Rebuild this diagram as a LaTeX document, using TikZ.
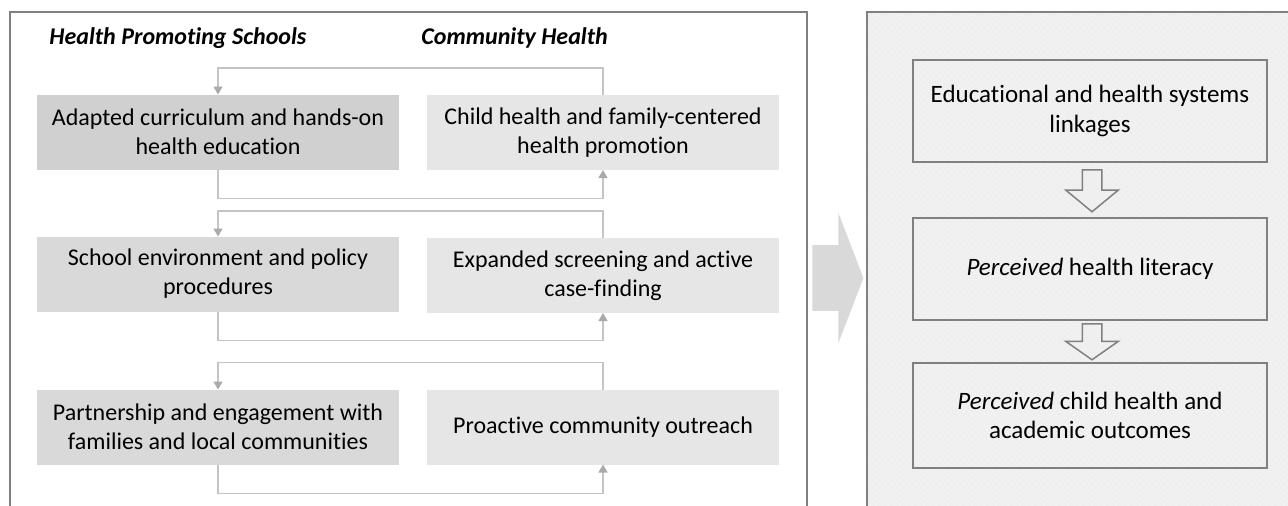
\documentclass[tikz,border=0pt]{standalone}
\usepackage{fontspec}
\setmainfont{Carlito}[Ligatures={NoCommon}]
\usetikzlibrary{arrows.meta,calc,positioning,shapes.arrows,patterns}
\definecolor{framegray}{HTML}{808080}
\definecolor{linkgray}{HTML}{C4C4C4}
\definecolor{tipgray}{HTML}{AAAAAA}
\definecolor{schdark}{HTML}{D0D0D0}
\definecolor{schfill}{HTML}{D9D9D9}
\definecolor{comfill}{HTML}{E6E6E6}
\definecolor{panelfill}{HTML}{EFEFEF}
\tikzset{
	box/.style={
		minimum height=37.5pt,
		inner sep=2pt, outer sep=0pt,
		align=center,
		font=\fontsize{12}{14.5}\selectfont},
	schbox/.style={box, fill=schfill, minimum width=181pt},
	combox/.style={box, fill=comfill, minimum width=176pt},
	sysbox/.style={box, draw=framegray, line width=.75pt, minimum width=177pt, minimum height=51pt,
		font=\fontsize{12.5}{14.8}\selectfont},
	heading/.style={anchor=base west, inner sep=0pt, font=\fontsize{12}{14}\selectfont\bfseries\itshape},
	link/.style={draw=linkgray, line width=.75pt,
		-{Triangle[length=4pt,width=4.5pt,color=tipgray]}},
	frame/.style={draw=framegray, line width=.8pt},
	% block arrows
	hollow arrow/.style={single arrow, draw=framegray, fill=panelfill, line width=.75pt,
		shape border rotate=270, anchor=tail, inner sep=4.5pt,
		single arrow head extend=8.25pt, single arrow tip angle=#1},
	big arrow/.style={single arrow, fill=schfill, anchor=tail,
		inner xsep=0pt, inner ysep=16.25pt, minimum height=25.5pt,
		single arrow head extend=16.25pt, single arrow tip angle=138}
}

\begin{document}
\begin{tikzpicture}[x=0.5pt,y=-0.5pt]
   \useasboundingbox (0,0) rectangle (1288,505);
   \clip (0,0) rectangle (1288,505);

   % left panel, open at the bottom
   \draw[frame] (10,520) -- (10,12) -- (807,12) -- (807,520);
   \node[heading] (hps) at (49,44) {Health Promoting Schools};
   \node[heading] (ch) at (421,44) {Community Health};

   \node[schbox, fill=schdark] (sch1) at (218,132)   {Adapted curriculum and hands-on\\health education};
   \node[combox]               (com1) at (603,132.5) {Child health and family-centered\\health promotion};
   \node[schbox]               (sch2) at (218,274)   {School environment and policy\\procedures};
   \node[combox]               (com2) at (603,275.5) {Expanded screening and active\\case-finding};
   \node[schbox]               (sch3) at (218,427)   {Partnership and engagement with\\families and local communities};
   \node[combox]               (com3) at (603,427)   {Proactive community outreach};

   \foreach \i in {1,2,3} {
      \draw[link] (sch\i.south) -- ++(0,29) -| (com\i.south);
      \draw[link] (com\i.north) -- ++(0,-27) -| (sch\i.north);
   }

   % arrow between the panels
   \node[big arrow] (step) at (812,278) {};

   % right panel
   \fill[panelfill] (867,12) rectangle (1300,520);
   \fill[pattern=crosshatch dots, pattern color=black!4] (867,12) rectangle (1300,520);
   \draw[frame] (867,520) -- (867,12) -- (1300,12);

   \node[sysbox] (linkage)  at (1090,111)   {Educational and health systems\\linkages};
   \node[sysbox] (literacy) at (1090,269)   {\textit{Perceived} health literacy};
   \node[sysbox, minimum height=52.5pt] (outcomes) at (1090,415.5) {\textit{Perceived} child health and\\academic outcomes};

   \node[hollow arrow=101, minimum height=21pt] (a1) at ($(linkage.south)+(2,7)$) {};
   \node[hollow arrow=110, minimum height=18pt] (a2) at ($(literacy.south)+(2,3)$) {};
\end{tikzpicture}
\end{document}
